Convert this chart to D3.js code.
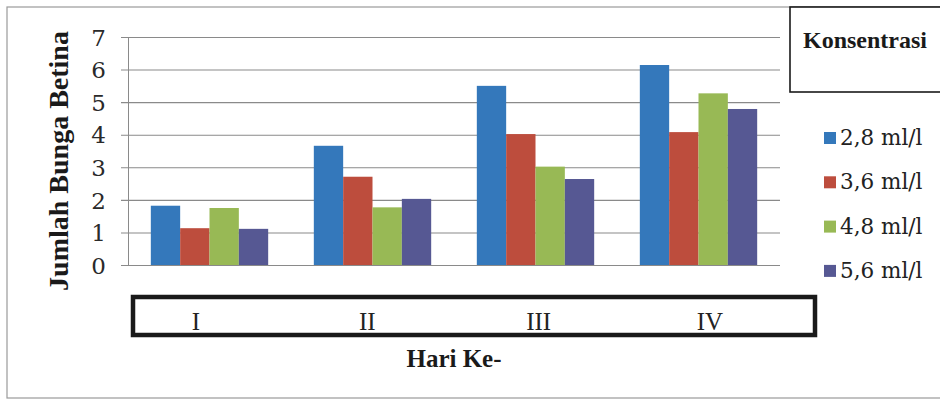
<!DOCTYPE html>
<html>
<head>
<meta charset="utf-8">
<script src="https://cdn.jsdelivr.net/npm/d3@7"></script>
<style>
  html, body { margin: 0; padding: 0; background: #fff; }
  svg { display: block; }
  svg text { font-family: "Liberation Serif", "Times New Roman", Times, serif; }
  svg text.num { font-family: "DejaVu Serif", "Liberation Serif", serif; }
</style>
</head>
<body>
<svg id="chart" width="940" height="403"></svg>
<script>
// Days of observation
const categories = ["I", "II", "III", "IV"];
// Concentration series
const seriesNames = ["2,8 ml/l", "3,6 ml/l", "4,8 ml/l", "5,6 ml/l"];
const seriesColors = ["#3478bb", "#bd4d3d", "#98b955", "#565893"];
// Number of female flowers per day, one array per concentration
const s28 = [1.82, 3.66, 5.50, 6.14];
const s36 = [1.13, 2.71, 4.02, 4.08];
const s48 = [1.75, 1.77, 3.02, 5.27];
const s56 = [1.11, 2.03, 2.64, 4.79];
const yTicks = [0, 1, 2, 3, 4, 5, 6, 7];

const values = [s28, s36, s48, s56];

const svg = d3.select("#chart");

// Outer chart frame
svg.append("rect")
  .attr("x", 7).attr("y", 7).attr("width", 945).attr("height", 391)
  .attr("fill", "none").attr("stroke", "#9a9a9a").attr("stroke-width", 1.2);

const plot = { left: 128, right: 780, top: 37, bottom: 265 };

const x0 = d3.scaleBand().domain(categories)
  .range([plot.left, plot.right]).paddingInner(0.28).paddingOuter(0.14);
const x1 = d3.scaleBand().domain(d3.range(seriesNames.length))
  .range([0, x0.bandwidth()]);
const y = d3.scaleLinear().domain([0, 7]).range([plot.bottom, plot.top]);

// Horizontal gridlines with tick marks
const yAxis = d3.axisLeft(y).tickValues(yTicks)
  .tickSize(-(plot.right - plot.left)).tickPadding(22).tickFormat(d3.format("d"));
const gy = svg.append("g").attr("transform", `translate(${plot.left},0)`).call(yAxis);
gy.attr("font-family", null).attr("font-size", null);
gy.select(".domain").attr("stroke", "#8a8a8a");
gy.selectAll(".tick line").attr("stroke", "#8a8a8a").attr("stroke-width", 1.1).attr("x1", -7);
gy.selectAll(".tick text")
  .attr("class", "num")
  .attr("font-size", 23).attr("fill", "#2a2a2a").attr("dy", "0.36em");

// Bars
const groups = svg.append("g").selectAll("g")
  .data(categories).join("g")
  .attr("transform", d => `translate(${x0(d)},0)`);
groups.selectAll("rect")
  .data((c, ci) => values.map((arr, si) => ({ si, v: arr[ci] })))
  .join("rect")
  .attr("x", d => x1(d.si))
  .attr("width", x1.bandwidth())
  .attr("y", d => y(d.v))
  .attr("height", d => y(0) - y(d.v))
  .attr("fill", d => seriesColors[d.si]);

// Category label box (a separate text frame below the plot)
svg.append("rect")
  .attr("x", 133).attr("y", 297).attr("width", 682).attr("height", 38)
  .attr("fill", "none").attr("stroke", "#1a1a1a").attr("stroke-width", 4.5);
const xLabel = d3.scalePoint().domain(categories).range([196, 710]);
svg.append("g").selectAll("text")
  .data(categories).join("text")
  .attr("x", d => xLabel(d))
  .attr("y", 330)
  .attr("text-anchor", "middle")
  .attr("font-size", 25).attr("fill", "#222")
  .text(d => d);

// Axis titles
svg.append("text")
  .attr("x", 454).attr("y", 367).attr("text-anchor", "middle")
  .attr("font-weight", "bold").attr("font-size", 25).attr("fill", "#1a1a1a")
  .text("Hari Ke-");
svg.append("text")
  .attr("transform", "translate(68,161) rotate(-90)")
  .attr("text-anchor", "middle")
  .attr("font-weight", "bold").attr("font-size", 28).attr("fill", "#1a1a1a")
  .text("Jumlah Bunga Betina");

// Legend title box
svg.append("rect")
  .attr("x", 790).attr("y", 7).attr("width", 160).attr("height", 85)
  .attr("fill", "#fff").attr("stroke", "#1a1a1a").attr("stroke-width", 1.6);
svg.append("text")
  .attr("x", 803).attr("y", 48)
  .attr("font-weight", "bold").attr("font-size", 24).attr("fill", "#1a1a1a")
  .text("Konsentrasi");

// Legend entries
const legend = svg.append("g").selectAll("g")
  .data(seriesNames).join("g")
  .attr("transform", (d, i) => `translate(824,${145 + i * 44.3})`);
legend.append("rect")
  .attr("x", 0).attr("y", -13).attr("width", 12).attr("height", 12)
  .attr("fill", (d, i) => seriesColors[i]);
legend.append("text")
  .attr("class", "num")
  .attr("x", 16).attr("y", 0)
  .attr("font-size", 21.5).attr("fill", "#222")
  .text(d => d);
</script>
</body>
</html>
